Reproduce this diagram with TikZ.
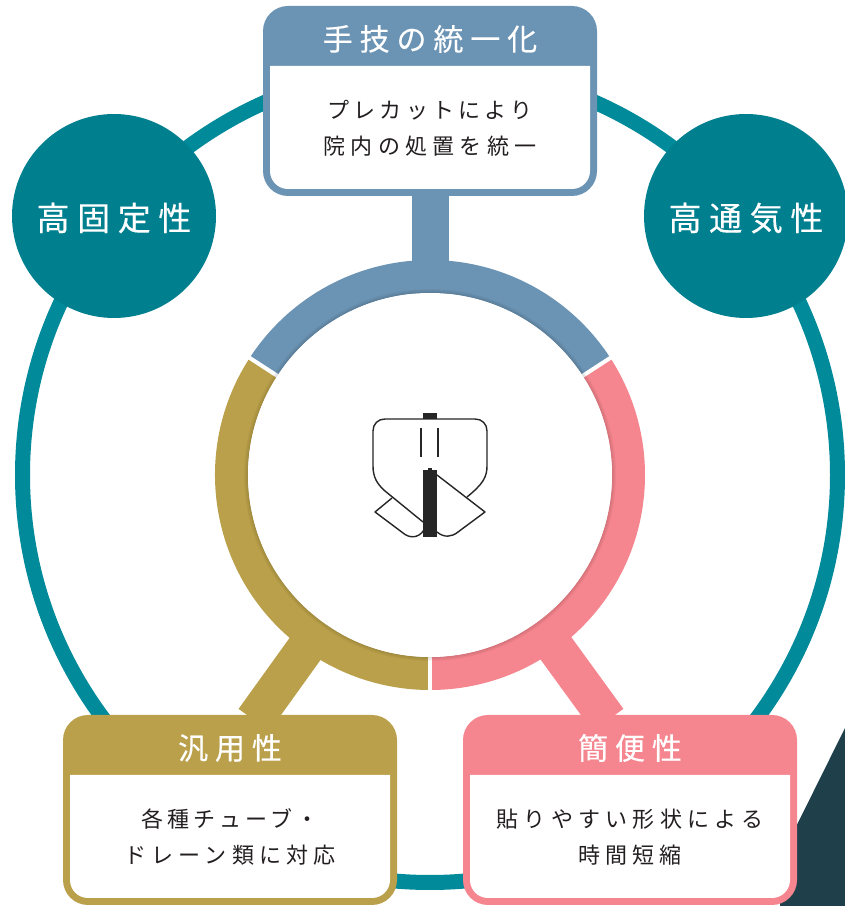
\documentclass[tikz,border=0pt]{standalone}
\usepackage{fontspec}
\usetikzlibrary{shapes.geometric}
\newfontfamily\jptitle[LetterSpace=23,FakeBold=0.3]{Noto Sans CJK JP}
\newfontfamily\jpbody[LetterSpace=24]{Noto Sans CJK JP}
\newfontfamily\jpkana[LetterSpace=19]{Noto Sans CJK JP}
\definecolor{ringteal}{HTML}{008A9A}
\definecolor{discteal}{HTML}{00808F}
\definecolor{techblue}{HTML}{6B93B3}
\definecolor{usegold}{HTML}{BAA04A}
\definecolor{easypink}{HTML}{F5858E}
\definecolor{cornerdark}{HTML}{1F3F4A}
\definecolor{bodyink}{HTML}{231F20}
\tikzset{
  card/.style={rectangle,rounded corners=25pt,minimum width=334pt,minimum height=190pt,inner sep=0pt,outer sep=0pt},
  disc/.style={circle,fill=discteal,minimum size=204pt,inner sep=0pt,text=white,font=\jptitle\fontsize{33}{40}\selectfont},
  cardtitle/.style={text=white,inner sep=0pt,font=\jptitle\fontsize{30}{36}\selectfont},
  cardtext/.style={text=bodyink,inner sep=0pt,align=center,font=\jpbody\fontsize{22}{36}\selectfont},
  stem/.style={line width=#1},
  hubarc/.style={line width=33pt},
  gap/.style={white,line width=4pt},
  icon/.style={black!85,line width=1.4pt}
}
\newcommand{\cardbody}[1]{
  \fill[white] ([shift={(7,-60)}]#1.north west) -- ([shift={(-7,-60)}]#1.north east)
    [rounded corners=18pt] -- ([shift={(-7,7)}]#1.south east) -- ([shift={(7,7)}]#1.south west)
    [sharp corners] -- cycle;
}
\begin{document}
\begin{tikzpicture}[x=1pt,y=1pt]
  \path[use as bounding box,clip] (0,0) rectangle (845,906);
  \fill[cornerdark] (845,178) -- (780,47) -- (780,0) -- (845,0) -- cycle;

  % outer ring and the two discs
  \node[circle,minimum size=397pt,inner sep=0pt,outer sep=0pt] (hub) at (430,431) {};
  \draw[ringteal,line width=15pt] (hub.center) circle (407.5);
  \node[disc] (grip) at (114,690) {\raisebox{-14.5pt}[0pt][0pt]{高固定性}};
  \node[disc] (air) at (746,690) {\raisebox{-14.5pt}[0pt][0pt]{高通気性}};

  % cards
  \node[card,fill=techblue] (tech) at (430,805) {};
  \node[card,fill=usegold] (wide) at (230,96) {};
  \node[card,fill=easypink] (easy) at (630,96) {};

  % stems into the hub
  \draw[techblue,stem=37pt] (hub.center) -- ([yshift=3]tech.south);
  \draw[usegold,stem=38pt] (hub.center) -- ([shift={(24,-5)}]wide.north);
  \draw[easypink,stem=38pt] (hub.center) -- ([shift={(-22,-5)}]easy.north);

  % hub ring
  \draw[techblue,hubarc] ([shift={(33:198.5)}]hub.center) arc[start angle=33,end angle=147,radius=198.5];
  \draw[usegold,hubarc] ([shift={(147:198.5)}]hub.center) arc[start angle=147,end angle=270,radius=198.5];
  \draw[easypink,hubarc] ([shift={(270:198.5)}]hub.center) arc[start angle=270,end angle=393,radius=198.5];
  \foreach \a in {33,147,270}
    \draw[gap] ([shift={(\a:180)}]hub.center) -- ([shift={(\a:216)}]hub.center);
  \foreach \w in {2,4,6,8}
    \draw[black,opacity=.03,line width=\w pt] (hub.center) circle (182);
  \node[circle,fill=white,minimum size=364pt,inner sep=0pt] (face) at (hub.center) {};

  % card faces and texts
  \cardbody{tech}
  \cardbody{wide}
  \cardbody{easy}
  \node[cardtitle] (techtitle) at ([yshift=-33]tech.north) {手技の統一化};
  \node[cardtitle] (widetitle) at ([yshift=-33]wide.north) {汎用性};
  \node[cardtitle] (easytitle) at ([yshift=-33]easy.north) {簡便性};
  \node[cardtext] (techtext) at ([yshift=-122]tech.north) {{\jpkana プレカットにより}\\院内の処置を統一};
  \node[cardtext] (widetext) at ([yshift=-122]wide.north) {{\jpkana 各種チューブ・}\\ドレーン類に対応};
  \node[cardtext] (easytext) at ([yshift=-122]easy.north) {貼りやすい形状による\\時間短縮};

  % dressing icon
  \begin{scope}[shift={(0,906)},y=-1pt]
    \draw[icon,line join=round] (392,498) -- (375,512) -- (403,533) .. controls (409,538) and (418,539) .. (424,530);
    \draw[icon,line join=round] (437,475) -- (485,512) -- (458,532) .. controls (452,537) and (444,538) .. (437,532);
    \draw[icon] (423,522) -- (385,491) .. controls (377,484) and (373,477) .. (373,466) -- (373,431) .. controls (373,424) and (378,419) .. (385,419) -- (475,419) .. controls (482,419) and (487,424) .. (487,431) -- (487,466) .. controls (487,477) and (483,484) .. (467,497);
    \draw[icon] (421,428) -- (421,457);
    \draw[icon] (438,428) -- (438,457);
    \fill[black!85] (423,413) rectangle (437,419);
    \fill[black!85] (423,470) rectangle (437,537);
    \fill[black!85] (428,468) rectangle (432,470);
  \end{scope}
\end{tikzpicture}
\end{document}
